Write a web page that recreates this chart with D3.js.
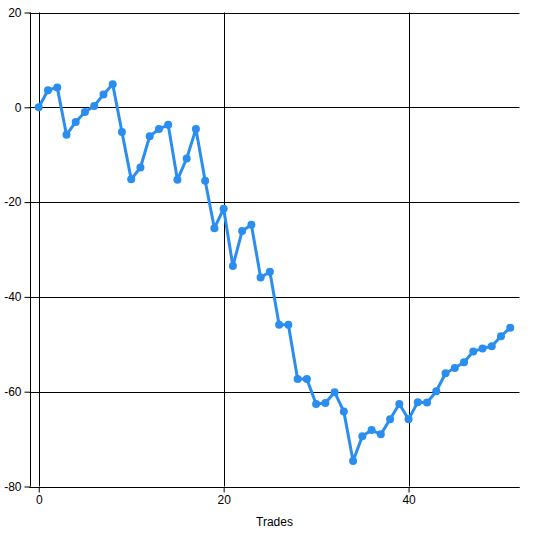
<!DOCTYPE html>
<html><head><meta charset="utf-8">
<script src="https://cdn.jsdelivr.net/npm/d3@7"></script>
<style>body{margin:0;background:#fff}svg{display:block}</style>
</head><body>
<script>
const trades = d3.range(0, 52);
const equity = [0, 3.6, 4.2, -5.8, -3.1, -1.0, 0.3, 2.7, 4.85, -5.2,
  -15.2, -12.7, -6.1, -4.6, -3.7, -15.3, -10.8, -4.6, -15.5, -25.5,
  -21.4, -33.5, -26.1, -24.8, -35.9, -34.7, -45.9, -45.9, -57.3, -57.3,
  -62.6, -62.4, -60.1, -64.2, -74.6, -69.4, -68.1, -69.0, -65.8, -62.6,
  -65.8, -62.2, -62.3, -59.9, -56.1, -55.0, -53.8, -51.5, -50.9, -50.4,
  -48.3, -46.5];
const xTicks = [0, 20, 40];
const yTicks = [-80, -60, -40, -20, 0, 20];
const xTitle = "Trades";

const W = 534, H = 534;
const svg = d3.select("body").append("svg").attr("width", W).attr("height", H);
const x = d3.scaleLinear().domain([-1, 52]).range([29.5, 519.5]);
const y = d3.scaleLinear().domain([-80, 20]).range([486.5, 12.5]);
const font = "'Liberation Sans', Arial, sans-serif";
const fmt = d => String(d);

// horizontal grid
svg.append("g").selectAll("line").data(yTicks).join("line")
  .attr("x1", x(-1)).attr("x2", x(52))
  .attr("y1", d => Math.round(y(d)) + 0.5).attr("y2", d => Math.round(y(d)) + 0.5)
  .attr("stroke", "#000").attr("stroke-width", 1);
// vertical grid
svg.append("g").selectAll("line").data(xTicks).join("line")
  .attr("x1", d => Math.round(x(d)) + 0.5).attr("x2", d => Math.round(x(d)) + 0.5)
  .attr("y1", y(20)).attr("y2", y(-80))
  .attr("stroke", "#000").attr("stroke-width", 1);

// y axis
const yAxis = d3.axisLeft(y).tickValues(yTicks).tickSize(6).tickPadding(3).tickFormat(fmt);
const gy = svg.append("g").attr("transform", `translate(${Math.round(x(-1)) + 0.5},0)`).call(yAxis);
gy.select(".domain").attr("stroke", "#000").attr("d", `M0,${y(20)}V${y(-80)}`);
gy.selectAll(".tick line").attr("stroke", "#000");
gy.selectAll(".tick text").attr("font-family", font).attr("font-size", 12).attr("fill", "#000");

// x axis
const xAxis = d3.axisBottom(x).tickValues(xTicks).tickSize(5).tickPadding(3).tickFormat(fmt);
const gx = svg.append("g").attr("transform", `translate(0,${Math.round(y(-80)) + 0.5})`).call(xAxis);
gx.select(".domain").attr("stroke", "#000").attr("d", `M${x(-1)},0H${x(52)}`);
gx.selectAll(".tick line").attr("stroke", "#000");
gx.selectAll(".tick text").attr("font-family", font).attr("font-size", 12).attr("fill", "#000");

svg.append("text").attr("x", (x(-1) + x(52)) / 2).attr("y", 526)
  .attr("text-anchor", "middle").attr("font-family", font).attr("font-size", 12)
  .attr("fill", "#000").text(xTitle);

const data = trades.map((t, i) => [t, equity[i]]);
svg.append("path").datum(data)
  .attr("fill", "none").attr("stroke", "#2a8df0").attr("stroke-width", 3)
  .attr("stroke-linejoin", "round")
  .attr("d", d3.line().x(d => x(d[0])).y(d => y(d[1])));
svg.append("g").selectAll("circle").data(data).join("circle")
  .attr("cx", d => x(d[0])).attr("cy", d => y(d[1])).attr("r", 4)
  .attr("fill", "#2a8df0");
</script>
</body></html>
